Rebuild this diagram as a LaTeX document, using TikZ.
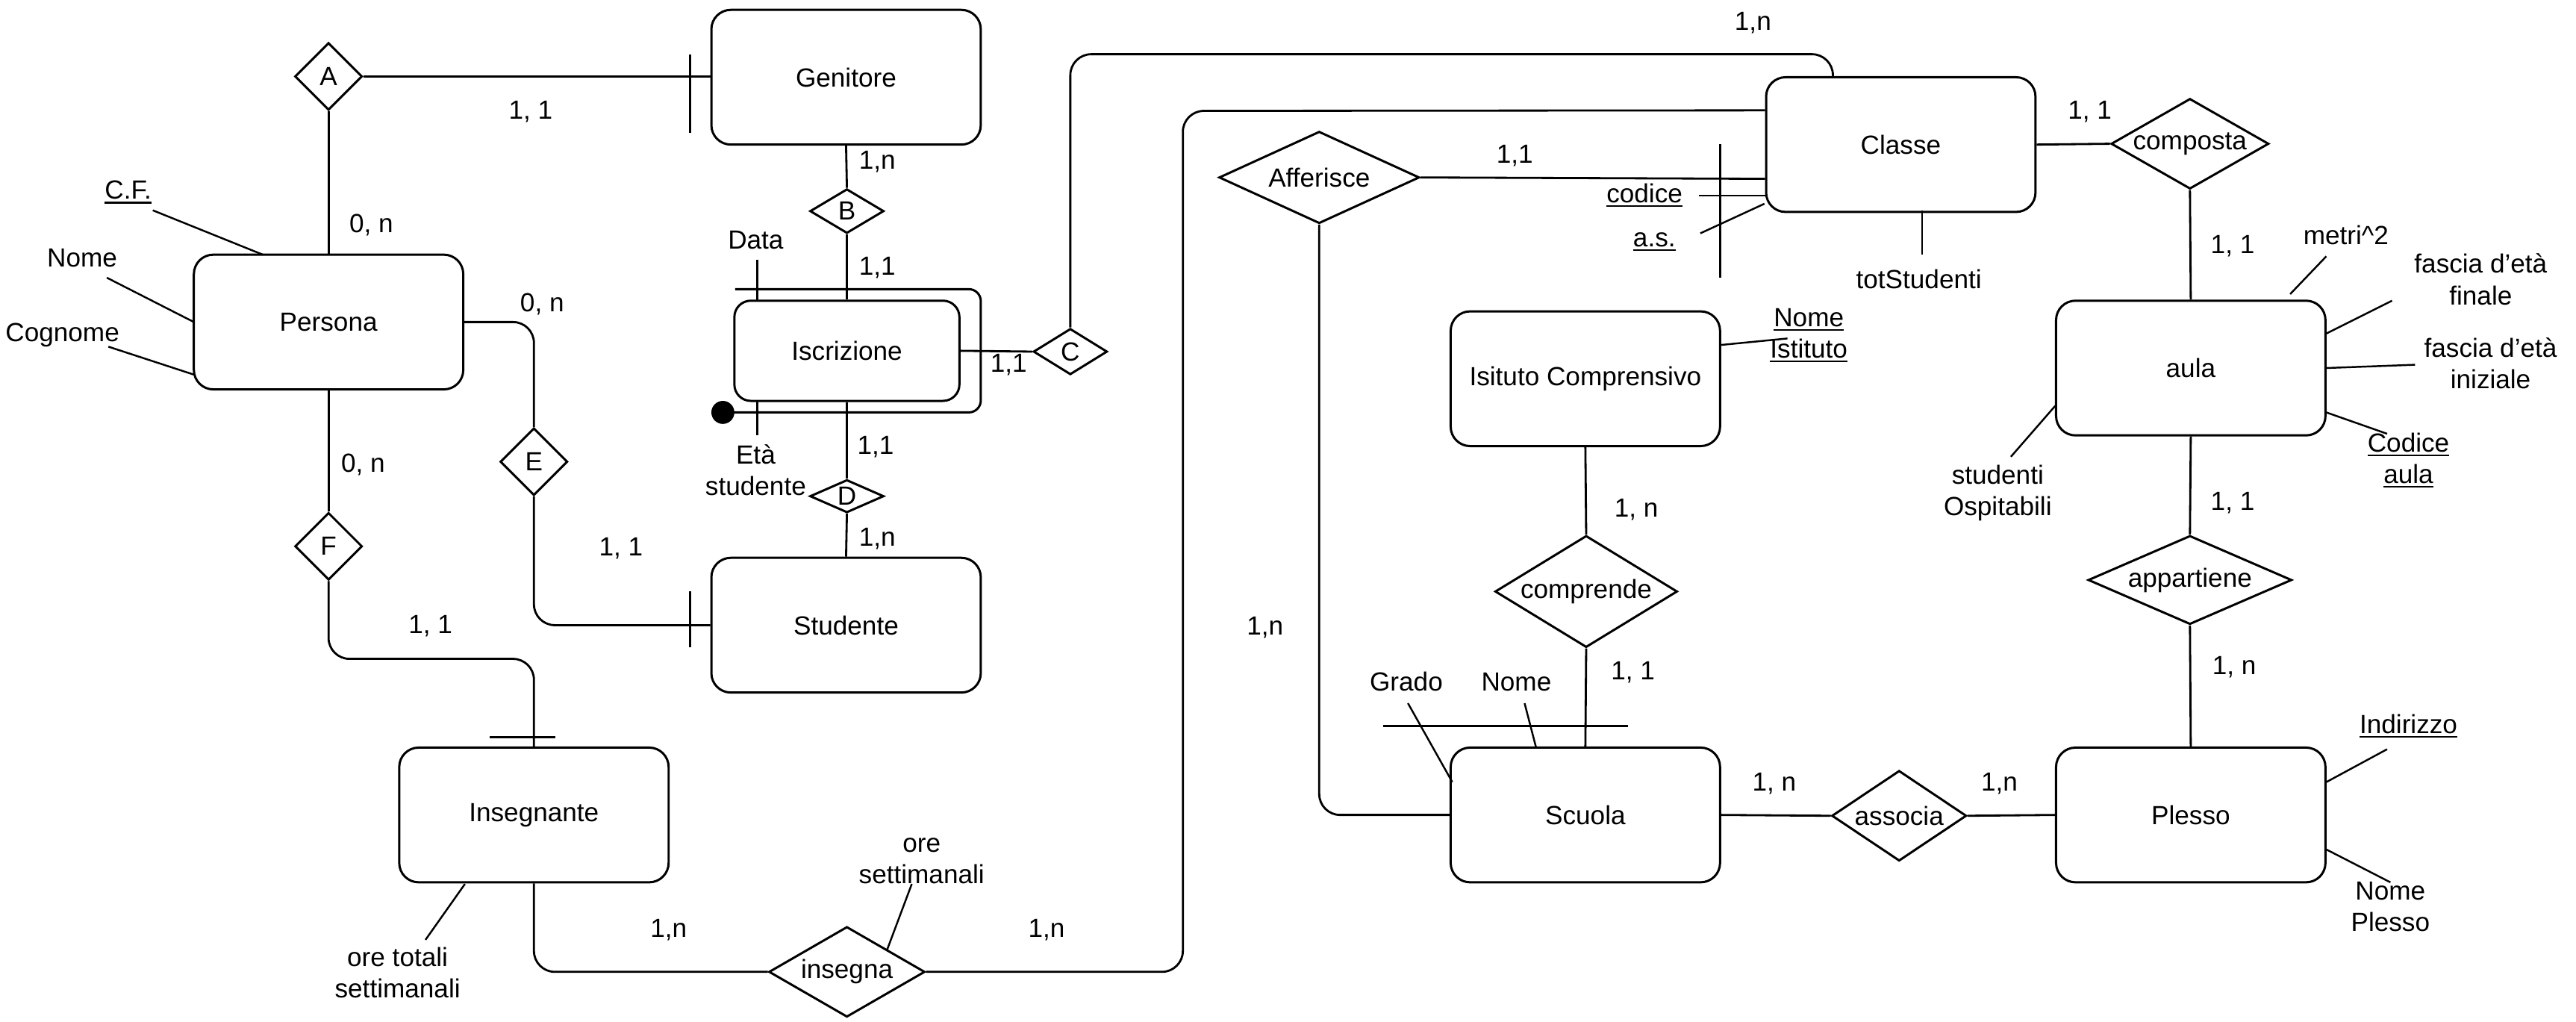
\documentclass[tikz,border=0pt]{standalone}
\usepackage{fontspec}
\setmainfont{Liberation Sans}
\usetikzlibrary{shapes.geometric,calc}
\newcommand{\dtxt}[1]{\makebox[0pt]{#1}}
\newcommand{\ulx}[1]{\setbox0\hbox{#1}\rlap{\rule[-1.6pt]{\wd0}{0.6pt}}\box0}
\begin{document}
\begin{tikzpicture}[x=0.022cm,y=-0.022cm,
  every node/.style={font=\fontsize{10pt}{12pt}\selectfont, inner sep=0pt},
  entity/.style={draw, line width=0.85pt, rounded corners=0.26cm, minimum width=3.608cm, minimum height=1.804cm, align=center},
  rel/.style={draw, diamond, line width=0.85pt, inner sep=0pt},
  conn/.style={line width=0.8pt, rounded corners=0.28cm},
  attr/.style={line width=0.7pt},
  tick/.style={line width=0.8pt},
  lbl/.style={align=center},
]
\useasboundingbox[fill=white] (0,0) rectangle (1568,622);

% ---------------- entities ----------------
\node[entity] (gen) at (515,47) {Genitore};
\node[entity] (per) at (200,196) {Persona};
\node[entity, minimum width=3.014cm, minimum height=1.342cm, rounded corners=0.22cm] (isc) at (515.5,213.5) {Iscrizione};
\node[entity] (stu) at (515,380.5) {Studente};
\node[entity] (ins) at (325,496) {Insegnante};
\node[entity] (cls) at (1157,88) {Classe};
\node[entity] (ist) at (965,230.5) {Isituto Comprensivo};
\node[entity] (scu) at (965,496) {Scuola};
\node[entity] (aula) at (1333.5,224) {aula};
\node[entity] (ple) at (1333.5,496) {Plesso};

% ---------------- relationships ----------------
\node[rel, minimum width=0.902cm, minimum height=0.902cm] (A) at (200,46.5) {\dtxt{A}};
\node[rel, minimum width=0.99cm, minimum height=0.594cm] (B) at (515.5,128.5) {\dtxt{B}};
\node[rel, minimum width=0.99cm, minimum height=0.616cm] (C) at (651.5,214) {\dtxt{C}};
\node[rel, minimum width=0.99cm, minimum height=0.44cm] (D) at (515.5,302) {\dtxt{D}};
\node[rel, minimum width=0.902cm, minimum height=0.902cm] (E) at (325,281) {\dtxt{E}};
\node[rel, minimum width=0.902cm, minimum height=0.902cm] (F) at (200,332.5) {\dtxt{F}};
\node[rel, minimum width=2.09cm, minimum height=1.21cm] (insg) at (515.5,591.5) {\dtxt{insegna}};
\node[rel, minimum width=2.684cm, minimum height=1.232cm] (aff) at (803,108) {\dtxt{Afferisce}};
\node[rel, minimum width=2.112cm, minimum height=1.21cm] (comp) at (1333,87.5) {\dtxt{composta}};
\node[rel, minimum width=2.442cm, minimum height=1.496cm] (compr) at (965.5,360) {\dtxt{comprende}};
\node[rel, minimum width=1.804cm, minimum height=1.21cm] (ass) at (1156,496.5) {\dtxt{associa}};
\node[rel, minimum width=2.728cm, minimum height=1.188cm] (app) at (1333,353) {\dtxt{appartiene}};

% ---------------- helper coordinates ----------------
\coordinate (fI) at (260,401);
\coordinate (cTop) at (900,33);
\coordinate (clsN) at ($(cls.north west)!0.25!(cls.north east)$);
\coordinate (iTop) at (720,67.5);
\coordinate (clsW1) at ($(cls.north west)!0.25!(cls.south west)$);
\coordinate (clsW2) at ($(cls.north west)!0.75!(cls.south west)$);

% ---------------- connectors ----------------
\draw[conn] (A.east) -- (gen.west |- A.east);
\draw[conn] (A.south) -- (per.north);
\draw[conn] (per.east) -| (E.north);
\draw[conn] (E.south) |- (stu.west);
\draw[conn] (per.south) -- (F.north);
\draw[conn] (F.south) |- (fI) -| (ins.north);
\draw[conn] (gen.south) -- (B.north);
\draw[conn] (B.south) -- (isc.north);
\draw[conn] (isc.south) -- (D.north);
\draw[conn] (D.south) -- (stu.north);
\draw[conn] (isc.east) -- (C.west);
\draw[conn] (C.north) |- (cTop) -| (clsN);
\draw[conn] (ins.south) |- (insg.west);
\draw[conn] (insg.east) -| (iTop) -- (clsW1);
\draw[conn] (aff.east) -- (clsW2);
\draw[conn] (aff.south) |- (scu.west);
\draw[conn] (cls.east) -- (comp.west);
\draw[conn] (comp.south) -- (aula.north);
\draw[conn] (aula.south) -- (app.north);
\draw[conn] (app.south) -- (ple.north);
\draw[conn] (ist.south) -- (compr.north);
\draw[conn] (compr.south) -- (scu.north);
\draw[conn] (scu.east) -- (ass.west);
\draw[conn] (ass.east) -- (ple.west);

% ---------------- participation ticks / identifiers ----------------
\draw[tick] (420,33) -- (420,81);
\draw[tick] (420,360) -- (420,394);
\draw[tick] (298,448.5) -- (338,448.5);
\draw[tick] (1047,87.5) -- (1047,169);
\draw[tick] (842,442) -- (991,442);
\draw[line width=0.85pt, rounded corners=0.16cm] (447.5,176) -- (597,176) -- (597,251) -- (440,251);
\fill (440,251) circle (0.154cm);

% ---------------- cardinality labels ----------------
\node (c1) at (323,68) {1, 1};
\node (c2) at (226,137) {0, n};
\node (c3) at (330,185) {0, n};
\node (c4) at (378,334) {1, 1};
\node (c5) at (221,283) {0, n};
\node (c6) at (262,381) {1, 1};
\node (c7) at (534,98.5) {1,n};
\node (c8) at (534,163) {1,1};
\node (c9) at (533,272) {1,1};
\node (c10) at (534,328) {1,n};
\node (c11) at (614,222) {1,1};
\node (c12) at (1067,14) {1,n};
\node (c13) at (407,566) {1,n};
\node (c14) at (637,566) {1,n};
\node (c15) at (770,382) {1,n};
\node (c16) at (922,95) {1,1};
\node (c17) at (1272,68) {1, 1};
\node (c18) at (1359,150) {1, 1};
\node (c19) at (1359,306) {1, 1};
\node (c20) at (1360,406) {1, n};
\node (c21) at (996,310) {1, n};
\node (c22) at (994,409) {1, 1};
\node (c23) at (1080,477) {1, n};
\node (c24) at (1217,477) {1,n};

% ---------------- attributes ----------------
\node (aCF) at (78,117) {\ulx{C.F.}};
\draw[attr] (93,128) -- (160,155);
\node (aNome) at (50,157) {Nome};
\draw[attr] (65,169) -- (118,196);
\node (aCogn) at (38,204) {Cognome};
\draw[attr] (66,211) -- (118,228);
\node (aData) at (460,146) {Data};
\draw[attr] (461,158) -- (461,183);
\node[lbl] (aEta) at (460,286) {Età\\studente};
\draw[attr] (461,244) -- (461,265);
\node[lbl] (aOreTot) at (242,592) {ore totali\\settimanali};
\draw[attr] (283,538) -- (259,572);
\node[lbl] (aOreSet) at (561,524) {ore\\settimanali};
\draw[attr] (555,538) -- (540,578);
\node (aCod) at (1001,119) {\ulx{codice}};
\draw[attr] (1034,119) -- (1075,119);
\node (aAs) at (1007,147) {\ulx{a.s.}};
\draw[attr] (1035,142) -- (1074,124);
\node (aTot) at (1168,170) {totStudenti};
\draw[attr] (1170,128) -- (1170,155);
\node[lbl] (aNomeIst) at (1101,204) {\ulx{Nome}\\\ulx{Istituto}};
\draw[attr] (1047,210) -- (1088,206);
\node (aMetri) at (1428,143) {metri\^{}2};
\draw[attr] (1416,156) -- (1394,179);
\node[lbl] (aFin) at (1510,170) {fascia d'età\\finale};
\draw[attr] (1456,183) -- (1416,203);
\node[lbl] (aIni) at (1516,221) {fascia d'età\\iniziale};
\draw[attr] (1470,222) -- (1416,224);
\node[lbl] (aCodAula) at (1466,280) {\ulx{Codice}\\\ulx{aula}};
\draw[attr] (1416,251) -- (1453,264);
\node[lbl] (aOsp) at (1216,300) {studenti\\Ospitabili};
\draw[attr] (1251,247) -- (1224,278);
\node (aInd) at (1466,442) {\ulx{Indirizzo}};
\draw[attr] (1453,456) -- (1416,476);
\node[lbl] (aNomePl) at (1455,552) {Nome\\Plesso};
\draw[attr] (1416,517) -- (1455,537);
\node (aGrado) at (856,415) {Grado};
\draw[attr] (857,428) -- (884,476);
\node (aNomeSc) at (923,415) {Nome};
\draw[attr] (928,428) -- (935,455);
\end{tikzpicture}
\end{document}
